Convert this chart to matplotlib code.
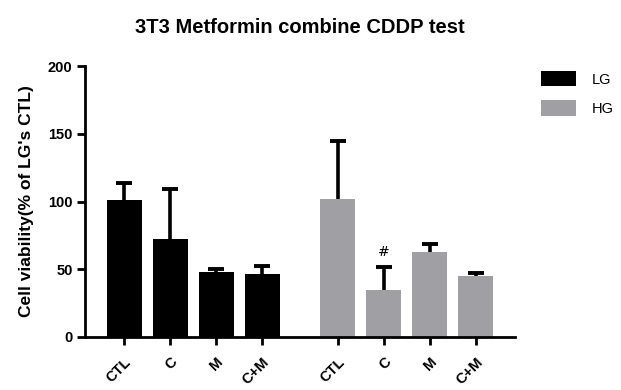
import matplotlib
matplotlib.use("Agg")
import matplotlib.pyplot as plt
from matplotlib.patches import Patch
import numpy as np

plt.rcParams['font.family'] = ['Liberation Sans', 'DejaVu Sans']

categories = ["CTL", "C", "M", "C+M"]
groups = ["LG", "HG"]
lg_values = [101, 72.5, 47.8, 46.7]
lg_err = [13, 37, 2.7, 5.4]
hg_values = [102, 34.5, 63, 44.8]
hg_err = [43, 17, 6, 2.8]
yticks = [0, 50, 100, 150, 200]
colors = ["#000000", "#a0a0a4"]

fig = plt.figure(figsize=(6.21, 3.90), dpi=100)
ax = fig.add_axes([85/621, 53/390, 430/621, 271/390])

lg_x = [0, 1, 2, 3]
hg_x = [4.65, 5.65, 6.65, 7.65]
w = 0.76

for xs, vals, errs, col in [(lg_x, lg_values, lg_err, colors[0]),
                            (hg_x, hg_values, hg_err, colors[1])]:
    ax.bar(xs, vals, width=w, color=col, zorder=2)
    tops = np.array(vals) + np.array(errs)
    ax.vlines(xs, vals, tops, colors="black", linewidth=2.6, zorder=3)
    ax.plot(xs, tops, ls="none", marker="_", markersize=11, markeredgewidth=2.8,
            color="black", zorder=3)

ax.text(hg_x[1], hg_values[1] + hg_err[1] + 6, "#", ha="center", va="bottom",
        fontsize=10, family="DejaVu Sans")

ax.set_xlim(-0.85, 8.5)
ax.set_ylim(0, 200)
ax.set_yticks(yticks)
ax.set_yticklabels([str(t) for t in yticks], fontsize=10.5, fontweight="bold")
ax.set_xticks(lg_x + hg_x)
ax.set_xticklabels(categories + categories, rotation=45, ha="right",
                   rotation_mode="anchor", fontsize=10.5, fontweight="bold")
for s in ["top", "right"]:
    ax.spines[s].set_visible(False)
for s in ["left", "bottom"]:
    ax.spines[s].set_linewidth(2.0)
ax.tick_params(axis="both", width=2.0, length=6, pad=3)
ax.tick_params(axis="x", pad=7)

ax.set_ylabel("Cell viability(% of LG's CTL)", fontsize=12.5, fontweight="bold",
              labelpad=10)
ax.set_title("3T3 Metformin combine CDDP test", fontsize=14.5, fontweight="bold",
             pad=24, x=0.5)

handles = [Patch(facecolor=colors[0]), Patch(facecolor=colors[1])]
fig.legend(handles, groups, loc="upper left", bbox_to_anchor=(541/621, 1 - 71/390),
           frameon=False, fontsize=10.5, handlelength=2.4, handleheight=1.25,
           labelspacing=0.95, handletextpad=1.1, borderpad=0, borderaxespad=0)

fig.savefig("out.png", dpi=100)
